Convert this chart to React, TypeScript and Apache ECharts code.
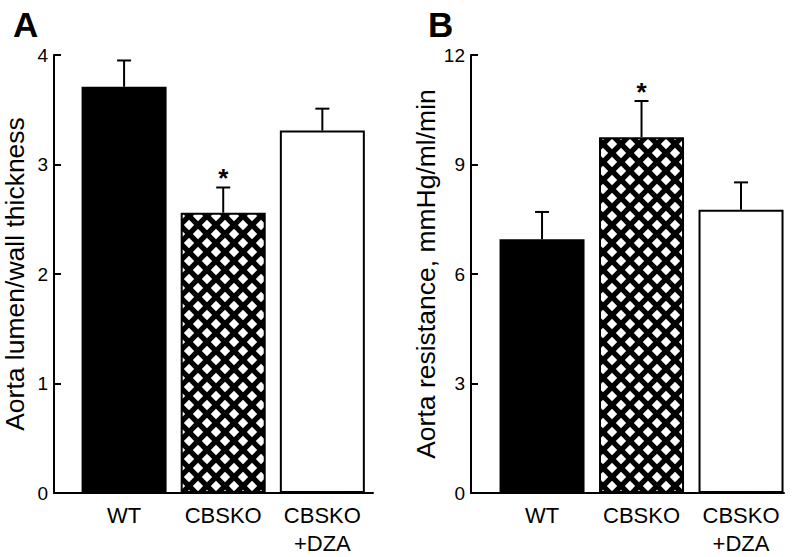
import React, { useEffect, useRef } from "react";
import * as echarts from "echarts";

const categories = ["WT", "CBSKO", "CBSKO\n+DZA"];
const panelTitles = ["A", "B"];

const lumenWallMeans = [3.71, 2.56, 3.31];
const lumenWallErrors = [0.24, 0.23, 0.2];
const lumenWallSig = [false, true, false];

const resistanceMeans = [6.95, 9.75, 7.76];
const resistanceErrors = [0.75, 0.99, 0.75];
const resistanceSig = [false, true, false];

const yNames = ["Aorta lumen/wall thickness", "Aorta resistance, mmHg/ml/min"];
const yMax = [4, 12];
const yInterval = [1, 3];

const FONT = "Liberation Sans, Arial, Helvetica, sans-serif";

function makeHatch(): string {
  const s = 18;
  const c = document.createElement("canvas");
  c.width = s;
  c.height = s;
  const ctx = c.getContext("2d")!;
  ctx.fillStyle = "#000";
  ctx.fillRect(0, 0, s, s);
  ctx.fillStyle = "#fff";
  const a = 5.2;
  const diamond = (cx: number, cy: number) => {
    ctx.beginPath();
    ctx.moveTo(cx - a, cy);
    ctx.lineTo(cx, cy - a);
    ctx.lineTo(cx + a, cy);
    ctx.lineTo(cx, cy + a);
    ctx.closePath();
    ctx.fill();
  };
  diamond(9, 9);
  diamond(0, 0);
  diamond(s, 0);
  diamond(0, s);
  diamond(s, s);
  return c.toDataURL();
}

export default function App() {
  const ref = useRef<HTMLDivElement>(null);
  useEffect(() => {
    document.body.style.margin = "0";
    if (!ref.current) return;
    const chart = echarts.init(ref.current, undefined, { renderer: "svg" });
    const hatch = {
      image: makeHatch(),
      repeat: "repeat",
      imageWidth: 18,
      imageHeight: 18,
    };
    const fills = ["#000", hatch, "#fff"];

    const xRanges = [
      [-0.707, 2.511],
      [-0.714, 2.432],
    ];

    const panels = [
      { means: lumenWallMeans, errs: lumenWallErrors, sig: lumenWallSig },
      { means: resistanceMeans, errs: resistanceErrors, sig: resistanceSig },
    ];

    const xAxis: any[] = [];
    const yAxis: any[] = [];
    const series: any[] = [];
    panels.forEach((p, i) => {
      xAxis.push({
        type: "value",
        gridIndex: i,
        min: xRanges[i][0],
        max: xRanges[i][1],
        splitLine: { show: false },
        axisTick: { show: false },
        axisLine: { show: true, onZero: false, lineStyle: { color: "#000", width: 2 } },
        axisLabel: {
          customValues: [0, 1, 2],
          formatter: (v: number) => categories[Math.round(v)],
          color: "#000",
          fontSize: 22,
          fontFamily: FONT,
          lineHeight: 28,
          margin: 8,
          verticalAlign: "top",
        },
      });
      yAxis.push({
        type: "value",
        gridIndex: i,
        min: 0,
        max: yMax[i],
        interval: yInterval[i],
        name: yNames[i],
        nameLocation: "middle",
        nameGap: 26,
        nameTextStyle: { color: "#000", fontSize: 26.5, fontFamily: FONT },
        splitLine: { show: false },
        axisLine: { show: true, onZero: false, lineStyle: { color: "#000", width: 2 } },
        axisTick: { show: true, inside: true, length: 7, lineStyle: { color: "#000", width: 2 } },
        axisLabel: { color: "#000", fontSize: 19, fontFamily: FONT, margin: 6 },
      });
      series.push({
        type: "bar",
        xAxisIndex: i,
        yAxisIndex: i,
        barWidth: 85,
        data: p.means.map((m, k) => ({
          value: [k, m],
          itemStyle: { color: fills[k], borderColor: "#000", borderWidth: 2 },
        })),
      });
      series.push({
        type: "custom",
        xAxisIndex: i,
        yAxisIndex: i,
        clip: false,
        data: p.means.map((m, k) => [k, m, p.errs[k], p.sig[k] ? 1 : 0]),
        renderItem: (params: any, api: any) => {
          const x = api.value(0);
          const m = api.value(1);
          const e = api.value(2);
          const s = api.value(3);
          const base = api.coord([x, m]);
          const top = api.coord([x, m + e]);
          const children: any[] = [
            {
              type: "line",
              shape: { x1: base[0], y1: base[1], x2: top[0], y2: top[1] },
              style: { stroke: "#000", lineWidth: 2 },
            },
            {
              type: "line",
              shape: { x1: top[0] - 7, y1: top[1], x2: top[0] + 7, y2: top[1] },
              style: { stroke: "#000", lineWidth: 2 },
            },
          ];
          if (s) {
            children.push({
              type: "text",
              x: top[0],
              y: top[1] + 4,
              style: {
                text: "*",
                fontSize: 26,
                fontWeight: "bold",
                fontFamily: FONT,
                fill: "#000",
                align: "center",
                verticalAlign: "bottom",
              },
            });
          }
          return { type: "group", children };
        },
      });
    });

    chart.setOption({
      animation: false,
      backgroundColor: "#fff",
      title: [
        {
          text: panelTitles[0],
          left: 8,
          top: 2,
          textStyle: { fontSize: 35, fontWeight: "bold", fontFamily: FONT, color: "#000" },
        },
        {
          text: panelTitles[1],
          left: 423,
          top: 2,
          textStyle: { fontSize: 35, fontWeight: "bold", fontFamily: FONT, color: "#000" },
        },
      ],
      grid: [
        { left: 52, top: 55, width: 321, height: 439 },
        { left: 471, top: 55, width: 313, height: 439 },
      ],
      xAxis,
      yAxis,
      series,
    });
    return () => chart.dispose();
  }, []);
  return <div ref={ref} style={{ width: 800, height: 557 }} />;
}
